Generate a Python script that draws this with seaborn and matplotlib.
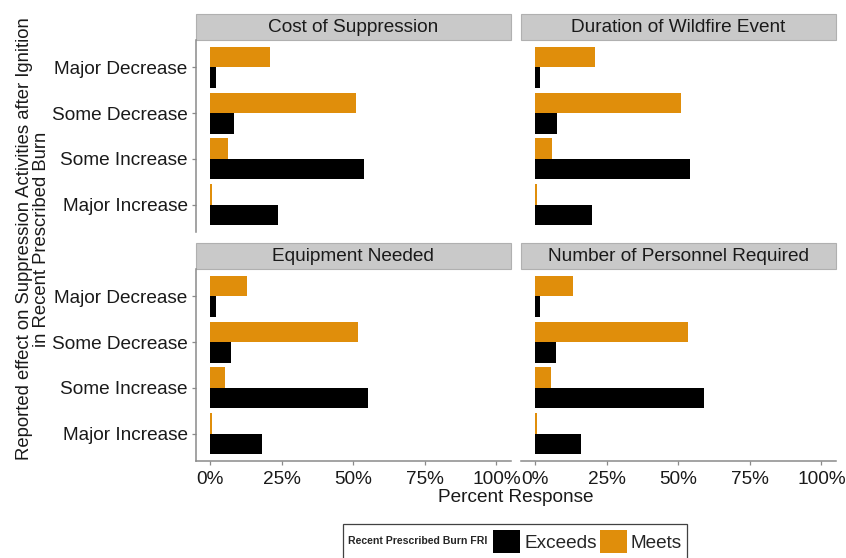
import pandas as pd
import matplotlib.pyplot as plt
import seaborn as sns
from matplotlib.patches import Patch, Rectangle
from matplotlib.offsetbox import HPacker

sns.set_theme(style="white")
plt.rcParams['font.family'] = ['Liberation Sans', 'DejaVu Sans']

categories = ['Major Decrease', 'Some Decrease', 'Some Increase', 'Major Increase']
panels = ['Cost of Suppression', 'Duration of Wildfire Event',
          'Equipment Needed', 'Number of Personnel Required']
fri_levels = ['Exceeds', 'Meets']
x_ticks = [0, 25, 50, 75, 100]
x_ticklabels = ['0%', '25%', '50%', '75%', '100%']

meets_cost = [21.0, 50.8, 6.3, 0.5]
exceeds_cost = [2.1, 8.3, 53.7, 23.5]
meets_duration = [21.0, 50.8, 5.9, 0.5]
exceeds_duration = [1.8, 7.6, 54.1, 19.8]
meets_equipment = [12.7, 51.6, 5.0, 0.5]
exceeds_equipment = [2.1, 7.2, 55.0, 18.2]
meets_personnel = [13.1, 53.2, 5.5, 0.5]
exceeds_personnel = [1.8, 7.2, 58.9, 16.0]

colors = {'Exceeds': '#000000', 'Meets': '#E08E0B'}

rows = []
for panel, meets, exceeds in zip(panels,
                                 [meets_cost, meets_duration, meets_equipment, meets_personnel],
                                 [exceeds_cost, exceeds_duration, exceeds_equipment, exceeds_personnel]):
    for cat, m, e in zip(categories, meets, exceeds):
        rows.append([panel, cat, 'Meets', m])
        rows.append([panel, cat, 'Exceeds', e])
df = pd.DataFrame(rows, columns=['panel', 'effect', 'fri', 'pct'])

W, H = 846, 558
fig, axs = plt.subplots(2, 2, figsize=(W / 100, H / 100), dpi=100)
plt.subplots_adjust(left=196 / W, right=835.7 / W, top=1 - 40 / H, bottom=1 - 461 / H,
                    wspace=0.033, hspace=0.193)

FS = 13.7
axis_gray = '#8a8a8a'

for i, (ax, panel) in enumerate(zip(axs.flat, panels)):
    sub = df[df['panel'] == panel]
    sns.barplot(data=sub, x='pct', y='effect', hue='fri', hue_order=['Meets', 'Exceeds'],
                order=categories, palette=colors, orient='h', width=0.9, saturation=1,
                linewidth=0, legend=False, ax=ax)
    ax.set_xlim(-5, 105)
    ax.set_ylim(3.6, -0.6)
    ax.set_xlabel('')
    ax.set_ylabel('')
    for s in ax.spines.values():
        s.set_visible(False)
    row, col = divmod(i, 2)
    ax.set_xticks(x_ticks)
    ax.set_yticks(range(len(categories)))
    if row == 1:
        ax.spines['bottom'].set_visible(True)
        ax.spines['bottom'].set_color(axis_gray)
        ax.spines['bottom'].set_linewidth(1.1)
        ax.set_xticklabels(x_ticklabels)
        ax.tick_params(axis='x', bottom=True, length=3, width=0.9, color=axis_gray,
                       pad=4.5, labelsize=FS, labelcolor='#1a1a1a')
    else:
        ax.tick_params(axis='x', bottom=False, labelbottom=False)
    if col == 0:
        ax.spines['left'].set_visible(True)
        ax.spines['left'].set_color(axis_gray)
        ax.spines['left'].set_linewidth(1.1)
        ax.set_yticklabels(categories)
        ax.tick_params(axis='y', left=True, length=3, width=0.9, color=axis_gray,
                       pad=3, labelsize=FS, labelcolor='#1a1a1a')
    else:
        ax.tick_params(axis='y', left=False, labelleft=False)

    # facet strip
    strip_h = 26 / 192
    ax.add_patch(Rectangle((0, 1), 1, strip_h, transform=ax.transAxes, clip_on=False,
                           facecolor='#C9C9C9', edgecolor='#B0B0B0', linewidth=0.8))
    ax.text(0.5, 1 + strip_h / 2 - 0.004, panel, transform=ax.transAxes, ha='center',
            va='center', fontsize=FS, color='#1a1a1a')

fig.text(33 / W, 1 - 239 / H,
         'Reported effect on Suppression Activities after Ignition\nin Recent Prescribed Burn',
         rotation=90, ha='center', va='center', multialignment='center',
         fontsize=13.3, color='#1a1a1a', linespacing=0.95)
fig.text(516 / W, 1 - 497 / H, 'Percent Response', ha='center', va='center',
         fontsize=FS, color='#1a1a1a')

handles = [Patch(facecolor=colors[k], edgecolor='none') for k in fri_levels]
leg = fig.legend(handles, fri_levels, loc='upper center',
                 bbox_to_anchor=(515 / W, 1 - 524 / H), ncol=2,
                 title='Recent Prescribed Burn FRI',
                 title_fontproperties={'weight': 'bold', 'size': 7.6},
                 fontsize=FS, frameon=True, fancybox=False, edgecolor='#111111',
                 handlelength=1.42, handleheight=1.5, handletextpad=0.2,
                 columnspacing=0.15, borderpad=0.3, borderaxespad=0)
leg.get_frame().set_linewidth(0.9)

# put the legend title to the left of the keys, ggplot style
vp = leg._legend_box
title_box, handle_box = vp.get_children()
hp = HPacker(children=[title_box, handle_box], align='center', pad=0, sep=4)
hp.set_figure(fig)
vp._children = [hp]

fig.savefig('out.png', dpi=100)
